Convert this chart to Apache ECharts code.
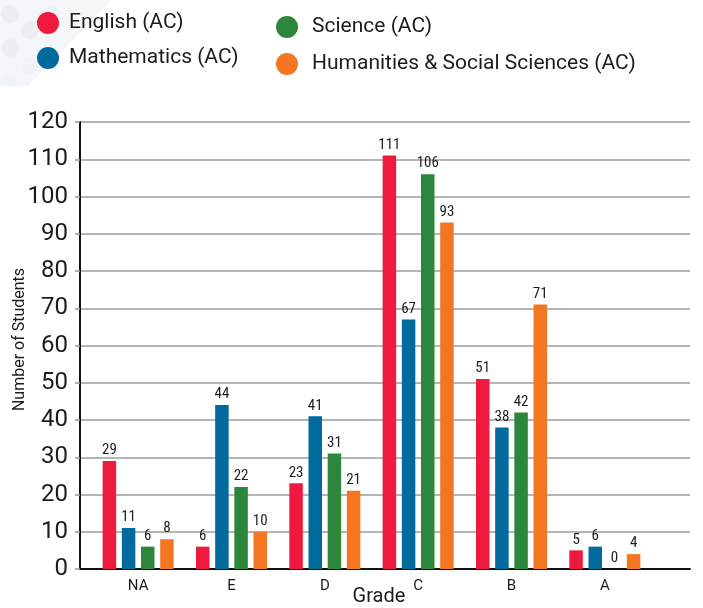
<!DOCTYPE html>
<html>
<head>
<meta charset="utf-8">
<title>Grades by Subject</title>
<script src="https://cdn.jsdelivr.net/npm/echarts@6/dist/echarts.min.js"></script>
<style>
  html, body { margin: 0; padding: 0; background: #ffffff; }
  #chart { width: 703px; height: 608px; }
</style>
</head>
<body>
<div id="chart"></div>
<script>
// Grade categories along the x axis
const grades = ['NA', 'E', 'D', 'C', 'B', 'A'];

// Number of students per grade, one array per subject
const english     = [29, 6, 23, 111, 51, 5];
const mathematics = [11, 44, 41, 67, 38, 6];
const science     = [6, 22, 31, 106, 42, 0];
const humanities  = [8, 10, 21, 93, 71, 4];

const seriesNames = [
  'English (AC)',
  'Mathematics (AC)',
  'Science (AC)',
  'Humanities & Social Sciences (AC)'
];
const seriesColors = ['#ee1a3d', '#006a9c', '#2c873a', '#f47622'];

// Value axis
const yMin = 0, yMax = 120, yStep = 10;

const textDark = '#1c1c1c';
const mainFont = 'Roboto, "Open Sans", sans-serif';
const narrowFont = '"Liberation Sans Narrow", "Roboto Condensed", Roboto, sans-serif';

const chart = echarts.init(document.getElementById('chart'), null, { renderer: 'canvas' });

function barSeries(idx, values) {
  return {
    name: seriesNames[idx],
    type: 'bar',
    xAxisIndex: 1,
    yAxisIndex: 1,
    data: values,
    barWidth: 13.5,
    barGap: '42%',
    itemStyle: { color: seriesColors[idx] },
    label: {
      show: true,
      position: 'top',
      distance: 3,
      color: textDark,
      fontFamily: narrowFont,
      fontSize: 15
    },
    emphasis: { disabled: true }
  };
}

const legendText = {
  color: textDark,
  fontFamily: mainFont,
  fontSize: 21
};

const option = {
  animation: false,
  backgroundColor: '#ffffff',
  graphic: [
    // faint decorative backdrop in the top-left corner
    {
      type: 'group',
      left: 0,
      top: 0,
      silent: true,
      z: -10,
      children: [
        { type: 'polygon', shape: { points: [[0, 0], [112, 0], [28, 86], [0, 86]] }, style: { fill: '#f4f6fa' } },
        { type: 'circle', shape: { cx: 10, cy: 14, r: 9 }, style: { fill: '#ebeff4' } },
        { type: 'circle', shape: { cx: 30, cy: 30, r: 9 }, style: { fill: '#ebeff4' } },
        { type: 'circle', shape: { cx: 10, cy: 48, r: 9 }, style: { fill: '#ebeff4' } },
        { type: 'circle', shape: { cx: 30, cy: 66, r: 8 }, style: { fill: '#eff2f6' } },
        { type: 'circle', shape: { cx: 52, cy: 14, r: 8 }, style: { fill: '#eff2f6' } },
        { type: 'circle', shape: { cx: 10, cy: 80, r: 7 }, style: { fill: '#f0f3f7' } }
      ]
    }
  ],
  legend: [
    {
      data: seriesNames.slice(0, 2),
      orient: 'vertical',
      left: 37,
      top: 12,
      padding: 0,
      itemWidth: 22,
      itemHeight: 22,
      itemGap: 13,
      icon: 'circle',
      selectedMode: false,
      textStyle: Object.assign({ padding: [0, 0, 0, 5] }, legendText)
    },
    {
      data: seriesNames.slice(2),
      orient: 'vertical',
      left: 276,
      top: 16,
      padding: 0,
      itemWidth: 22,
      itemHeight: 22,
      itemGap: 15,
      icon: 'circle',
      selectedMode: false,
      textStyle: Object.assign({ padding: [0, 0, 0, 9] }, legendText)
    }
  ],
  grid: [
    // frame: axis lines, value ticks and horizontal rules
    { left: 80, top: 122, width: 610, height: 447, containLabel: false, outerBoundsMode: 'none' },
    // bar area, inset inside the frame
    { left: 91.5, top: 122, width: 560, height: 447, containLabel: false, outerBoundsMode: 'none' }
  ],
  xAxis: [
    {
      gridIndex: 0,
      type: 'category',
      data: [''],
      axisLine: { show: true, lineStyle: { color: '#111', width: 2 } },
      axisTick: { show: false },
      axisLabel: { show: false },
      splitLine: { show: false },
      name: 'Grade',
      nameLocation: 'middle',
      nameGap: 18,
      nameMoveOverlap: false,
      nameTextStyle: { color: textDark, fontFamily: mainFont, fontSize: 20, padding: [0, 12, 0, 0] }
    },
    {
      gridIndex: 1,
      type: 'category',
      data: grades,
      axisLine: { show: false },
      axisTick: { show: false },
      axisLabel: { color: textDark, fontFamily: mainFont, fontSize: 15, margin: 10 },
      splitLine: { show: false }
    }
  ],
  yAxis: [
    {
      gridIndex: 0,
      type: 'value',
      min: yMin,
      max: yMax,
      interval: yStep,
      axisLine: { show: true, lineStyle: { color: '#111', width: 2 } },
      axisTick: { show: true, length: 5, lineStyle: { color: '#999', width: 1.5 } },
      axisLabel: { color: textDark, fontFamily: mainFont, fontSize: 24, margin: 12 },
      splitLine: { show: true, lineStyle: { color: '#9c9c9c', width: 1.6 } },
      name: 'Number of Students',
      nameLocation: 'middle',
      nameGap: 52,
      nameRotate: 90,
      nameMoveOverlap: false,
      nameTextStyle: { color: textDark, fontFamily: mainFont, fontSize: 16, padding: [0, 0, 0, 12] }
    },
    {
      gridIndex: 1,
      type: 'value',
      min: yMin,
      max: yMax,
      interval: yStep,
      show: false
    }
  ],
  series: [
    barSeries(0, english),
    barSeries(1, mathematics),
    barSeries(2, science),
    barSeries(3, humanities)
  ]
};

chart.setOption(option);
</script>
</body>
</html>
